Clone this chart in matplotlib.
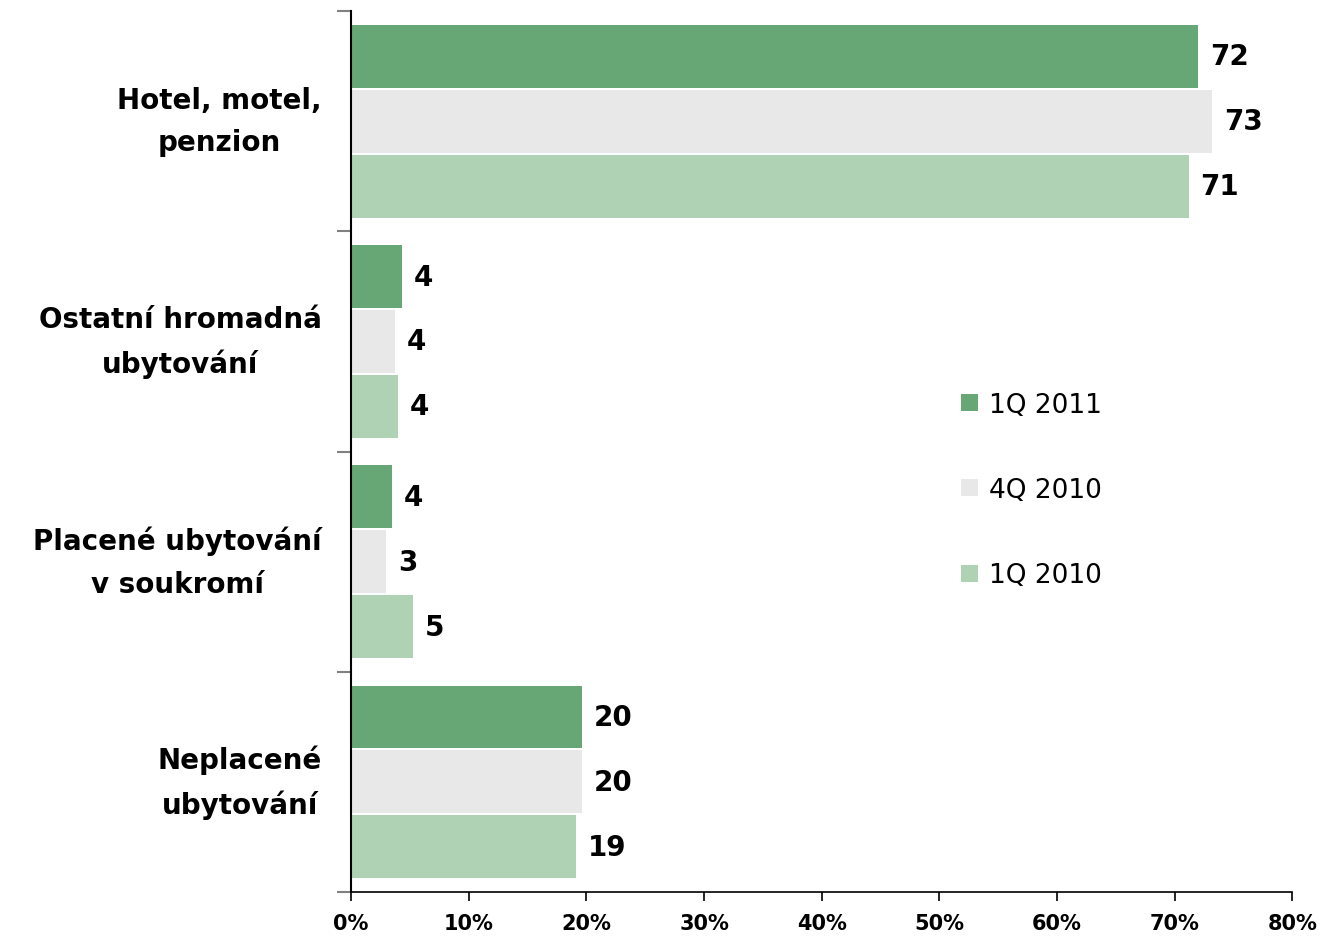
import numpy as np
import matplotlib.pyplot as plt
from matplotlib.patches import Patch

# categories and series (share in %)
categories = ['Hotel, motel,\npenzion', 'Ostatní hromadná\nubytování',
              'Placené ubytování\nv soukromí', 'Neplacené\nubytování']
series_names = ['1Q 2011', '4Q 2010', '1Q 2010']
q1_2011 = [72.0, 4.3, 3.5, 19.6]
q4_2010 = [73.2, 3.7, 3.0, 19.6]
q1_2010 = [71.2, 4.0, 5.3, 19.1]
series_vals = [q1_2011, q4_2010, q1_2010]
colors = ['#67a776', '#e8e8e8', '#aed2b3']

fig = plt.figure(figsize=(13.2, 9.37), dpi=100)
ax = fig.add_axes([0.266, 0.047, 0.713, 0.94])

y = np.arange(len(categories))
bh = 0.285
step = 0.295
for i, vals in enumerate(series_vals):
    pos = y + (i - 1) * step
    ax.barh(pos, vals, height=bh, color=colors[i], edgecolor='none')
    for p, v in zip(pos, vals):
        ax.text(v + 1.0, p, f'{round(v):d}', va='center', ha='left',
                fontsize=20, fontweight='bold')

ax.set_xlim(0, 80)
ax.set_ylim(len(categories) - 0.5, -0.5)
ax.set_xticks(np.arange(0, 81, 10))
ax.set_xticklabels([f'{t}%' for t in range(0, 81, 10)], fontsize=15, fontweight='bold')
ax.set_yticks(y)
ax.set_yticklabels(categories, fontsize=20, fontweight='bold', va='center',
                   multialignment='center', linespacing=1.65)
ax.set_yticks(np.arange(-0.5, len(categories), 1), minor=True)
ax.tick_params(axis='y', which='major', length=0, pad=21)
ax.tick_params(axis='y', which='minor', length=10, color='#808080', width=1.5)
ax.tick_params(axis='x', length=6.5, width=1.2, pad=9)

for s in ['top', 'right']:
    ax.spines[s].set_visible(False)
ax.spines['left'].set_linewidth(1.5)
ax.spines['bottom'].set_linewidth(1.2)

handles = [Patch(facecolor=c, edgecolor='none') for c in colors]
ax.legend(handles, series_names, loc='upper left', bbox_to_anchor=(0.623, 0.595),
          frameon=False, fontsize=19, handlelength=0.62, handleheight=0.62,
          handletextpad=0.45, labelspacing=2.25)

fig.savefig('out.png', dpi=100)
